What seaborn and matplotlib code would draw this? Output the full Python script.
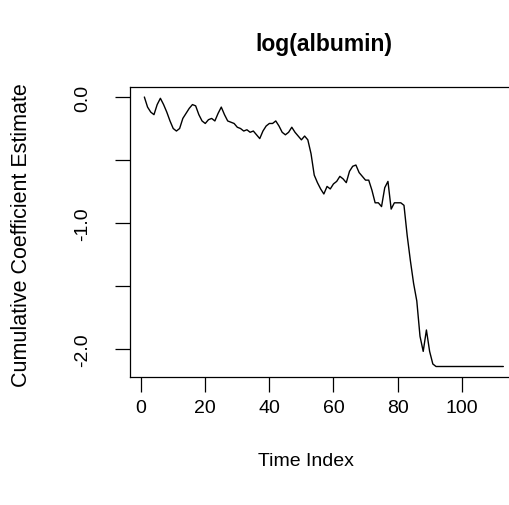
import numpy as np
import pandas as pd
import matplotlib
matplotlib.use("Agg")
import matplotlib.pyplot as plt
import seaborn as sns

# Data
time_index = list(range(1, 114))
coef_estimate = [
    0.00, -0.08, -0.12, -0.14, -0.06, -0.01, -0.06, -0.12, -0.19, -0.25,
    -0.27, -0.25, -0.17, -0.13, -0.09, -0.06, -0.07, -0.14, -0.19, -0.21,
    -0.18, -0.17, -0.19, -0.13, -0.08, -0.14, -0.19, -0.20, -0.21, -0.24,
    -0.25, -0.27, -0.26, -0.28, -0.27, -0.30, -0.33, -0.27, -0.23, -0.21,
    -0.21, -0.19, -0.23, -0.28, -0.30, -0.28, -0.24, -0.28, -0.31, -0.34,
    -0.31, -0.34, -0.45, -0.62, -0.68, -0.73, -0.77, -0.71, -0.73, -0.69,
    -0.67, -0.63, -0.65, -0.68, -0.59, -0.55, -0.54, -0.60, -0.63, -0.66,
    -0.66, -0.74, -0.84, -0.84, -0.87, -0.72, -0.67, -0.89, -0.84, -0.84,
    -0.84, -0.86, -1.10, -1.30, -1.48, -1.62, -1.90, -2.02, -1.85, -2.02,
    -2.12, -2.14, -2.14, -2.14, -2.14, -2.14, -2.14, -2.14, -2.14, -2.14,
    -2.14, -2.14, -2.14, -2.14, -2.14, -2.14, -2.14, -2.14, -2.14, -2.14,
    -2.14, -2.14, -2.14,
]
x_ticks = [0, 20, 40, 60, 80, 100]
y_ticks = [0.0, -0.5, -1.0, -1.5, -2.0]
y_tick_labels = ["0.0", "", "-1.0", "", "-2.0"]
title = "log(albumin)"
x_label = "Time Index"
y_label = "Cumulative Coefficient Estimate"

df = pd.DataFrame({"time": time_index, "coef": coef_estimate})

sns.set_style("white")
plt.rcParams["font.family"] = ["Liberation Sans", "DejaVu Sans"]
plt.rcParams["text.color"] = "black"
plt.rcParams["axes.labelcolor"] = "black"
plt.rcParams["xtick.color"] = "black"
plt.rcParams["ytick.color"] = "black"

W, H = 509, 506
fig = plt.figure(figsize=(W / 100, H / 100), dpi=100)
left, right, top, bottom = 130, 517.7, 87.7, 377.7
ax = fig.add_axes([left / W, 1 - bottom / H, (right - left) / W, (bottom - top) / H])

sns.lineplot(data=df, x="time", y="coef", ax=ax, color="black", linewidth=1.0,
             estimator=None)

ax.set_xlim(1 - 0.04 * 112, 113 + 0.04 * 112)
ax.set_ylim(-2.221, 0.082)
ax.set_xticks(x_ticks)
ax.set_xticklabels([str(t) for t in x_ticks], fontsize=14)
ax.set_yticks(y_ticks)
ax.set_yticklabels(y_tick_labels, fontsize=14, rotation=90, va="center")
ax.tick_params(axis="both", direction="out", length=10.8, width=0.9,
               bottom=True, left=True)
ax.tick_params(axis="x", pad=5)
ax.tick_params(axis="y", pad=17)
for s in ax.spines.values():
    s.set_color("black")
    s.set_linewidth(0.9)

ax.set_xlabel(x_label, fontsize=14)
ax.set_ylabel(y_label, fontsize=15.5)
ax.xaxis.set_label_coords(0.5 - (323.9 - 306) / 387.7, (bottom - 453) / (bottom - top))
ax.yaxis.set_label_coords((32 - left) / (right - left), (bottom - 235) / (bottom - top))
ax.set_title(title, fontsize=16.5, fontweight="bold", pad=0,
             y=(bottom - 51) / (bottom - top))
ax.title.set_va("baseline")

fig.savefig("out.png", dpi=100)
